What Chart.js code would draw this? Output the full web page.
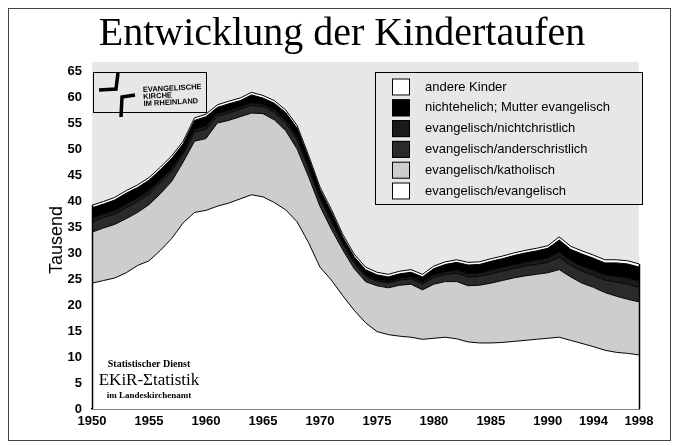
<!DOCTYPE html>
<html>
<head>
<meta charset="utf-8">
<script src="https://cdn.jsdelivr.net/npm/chart.js@4/dist/chart.umd.min.js"></script>
<style>
    html, body { margin: 0; padding: 0; background: #fff; }
</style>
</head>
<body>
<canvas id="taufenChart" width="679" height="446"></canvas>
<script>
// Jahre und Achsenbeschriftung
const years = [
    1950, 1951, 1952, 1953, 1954, 1955, 1956, 1957, 1958, 1959,
    1960, 1961, 1962, 1963, 1964, 1965, 1966, 1967, 1968, 1969,
    1970, 1971, 1972, 1973, 1974, 1975, 1976, 1977, 1978, 1979,
    1980, 1981, 1982, 1983, 1984, 1985, 1986, 1987, 1988, 1989,
    1990, 1991, 1992, 1993, 1994, 1995, 1996, 1997, 1998,
];
const tickYears = [1950, 1955, 1960, 1965, 1970, 1975, 1980, 1985, 1990, 1994, 1998];

// Taufen in Tausend (gestapelt, von unten nach oben)
const evEv = [
    24.2, 24.7, 25.2, 26.2, 27.6, 28.5, 30.5, 32.8, 35.8, 37.8,
    38.2, 39.0, 39.6, 40.4, 41.2, 40.8, 39.7, 38.3, 36.0, 32.0,
    27.3, 24.8, 21.8, 19.0, 16.6, 14.9, 14.3, 14.0, 13.8, 13.4,
    13.6, 13.8, 13.5, 12.9, 12.7, 12.7, 12.8, 13.0, 13.2, 13.4,
    13.6, 13.8, 13.2, 12.6, 12.0, 11.3, 10.9, 10.7, 10.4,
];
const evKath = [
    9.8, 10.1, 10.3, 10.4, 10.2, 10.8, 10.9, 11.0, 11.7, 13.7,
    13.8, 16.0, 15.9, 15.8, 15.7, 16.0, 15.9, 15.2, 14.0, 12.7,
    11.7, 9.8, 8.8, 8.0, 7.9, 8.8, 9.0, 9.8, 10.2, 9.5,
    10.4, 10.7, 11.0, 10.8, 11.1, 11.5, 11.9, 12.2, 12.4, 12.5,
    12.6, 13.0, 12.2, 11.6, 11.4, 11.1, 10.8, 10.4, 10.2,
];
const evAnders = [
    2.0, 2.0, 2.0, 2.1, 2.1, 2.0, 2.0, 1.9, 1.5, 1.7,
    1.8, 1.3, 1.4, 1.4, 1.5, 1.3, 1.4, 1.5, 1.7, 1.6,
    1.4, 1.4, 1.1, 1.0, 1.0, 0.9, 0.9, 1.0, 1.0, 1.1,
    1.3, 1.4, 1.6, 1.7, 1.7, 1.8, 1.8, 1.8, 1.9, 1.9,
    2.0, 2.4, 2.2, 2.3, 2.3, 2.4, 2.7, 2.9, 2.8,
];
const evNicht = [
    0.7, 0.7, 0.7, 0.7, 0.7, 0.7, 0.7, 0.6, 0.5, 0.6,
    0.6, 0.5, 0.5, 0.5, 0.5, 0.5, 0.5, 0.5, 0.6, 0.5,
    0.5, 0.5, 0.4, 0.3, 0.3, 0.3, 0.3, 0.3, 0.4, 0.4,
    0.5, 0.5, 0.6, 0.6, 0.6, 0.7, 0.7, 0.7, 0.7, 0.8,
    0.8, 1.0, 0.9, 1.0, 1.0, 1.0, 1.1, 1.2, 1.2,
];
const nichtehelich = [
    2.0, 1.9, 2.0, 2.1, 2.0, 2.0, 1.9, 1.9, 1.5, 1.7,
    1.8, 1.2, 1.3, 1.2, 1.5, 1.2, 1.3, 1.5, 1.7, 1.5,
    1.3, 1.4, 1.0, 1.0, 1.0, 0.9, 0.9, 0.9, 0.9, 1.0,
    1.2, 1.4, 1.5, 1.7, 1.7, 1.7, 1.7, 1.8, 1.8, 1.8,
    1.9, 2.3, 2.2, 2.3, 2.3, 2.3, 2.6, 2.7, 2.7,
];
const andere = [
    0.5, 0.5, 0.5, 0.5, 0.5, 0.5, 0.5, 0.5, 0.5, 0.5,
    0.5, 0.5, 0.5, 0.5, 0.5, 0.5, 0.5, 0.5, 0.5, 0.5,
    0.5, 0.5, 0.5, 0.5, 0.5, 0.5, 0.5, 0.5, 0.5, 0.5,
    0.5, 0.5, 0.5, 0.5, 0.5, 0.5, 0.5, 0.5, 0.5, 0.5,
    0.5, 0.6, 0.6, 0.6, 0.6, 0.6, 0.6, 0.6, 0.6,
];

const seriesLabels = [
    "evangelisch/evangelisch",
    "evangelisch/katholisch",
    "evangelisch/anderschristlich",
    "evangelisch/nichtchristlich",
    "nichtehelich; Mutter evangelisch",
    "andere Kinder",
];
const seriesData = [evEv, evKath, evAnders, evNicht, nichtehelich, andere];
const seriesColors = ["#ffffff", "#cdcdcd", "#2a2a2a", "#1a1a1a", "#000000", "#ffffff"];

const titleText = "Entwicklung der Kindertaufen";
const stipple = "#e7e7e7";
const sans = "'Liberation Sans', Arial, sans-serif";
const serif = "'Liberation Serif', 'Times New Roman', serif";

const datasets = seriesData.map((values, i) => ({
    label: seriesLabels[i],
    data: values,
    backgroundColor: seriesColors[i],
    borderColor: "#000",
    borderWidth: 1,
    pointRadius: 0,
    tension: 0,
    fill: i === 0 ? "origin" : "-1",
}));

// Hintergrund, Rahmen und Ueberschrift
const backdrop = {
    id: "backdrop",
    beforeDraw(chart) {
        const { ctx, chartArea: a } = chart;
        ctx.save();
        ctx.fillStyle = "#fff";
        ctx.fillRect(0, 0, chart.width, chart.height);
        ctx.fillStyle = stipple;
        ctx.fillRect(a.left, a.top - 9, a.right - a.left, a.bottom - a.top + 9);
        ctx.strokeStyle = "#444";
        ctx.lineWidth = 1;
        ctx.strokeRect(8.5, 8.5, 662, 432);
        ctx.fillStyle = "#000";
        ctx.font = "40px " + serif;
        ctx.textAlign = "center";
        ctx.textBaseline = "alphabetic";
        ctx.fillText(titleText, 342, 45);
        ctx.restore();
    },
};

// senkrechte Kanten der Flaeche bei 1950 und 1998
const edges = {
    id: "edges",
    afterDatasetsDraw(chart) {
        const { ctx, scales } = chart;
        const x = scales.x, y = scales.y;
        ctx.save();
        ctx.strokeStyle = "#000";
        ctx.lineWidth = 1.5;
        [0, years.length - 1].forEach((i) => {
            const top = seriesData.reduce((s, arr) => s + arr[i], 0);
            const px = Math.round(x.getPixelForValue(i)) + 0.5;
            ctx.beginPath();
            ctx.moveTo(px, y.getPixelForValue(0));
            ctx.lineTo(px, y.getPixelForValue(top));
            ctx.stroke();
        });
        ctx.restore();
    },
};

// Legende, Logo und Vermerk
const extras = {
    id: "extras",
    afterDraw(chart) {
        const ctx = chart.ctx;
        ctx.save();

        // Legende
        ctx.fillStyle = stipple;
        ctx.fillRect(375, 72, 267, 132);
        ctx.strokeStyle = "#000";
        ctx.lineWidth = 1;
        ctx.strokeRect(375.5, 72.5, 267, 132);
        ctx.font = "13px " + sans;
        ctx.textBaseline = "middle";
        ctx.textAlign = "left";
        for (let k = 0; k < seriesLabels.length; k++) {
            const i = seriesLabels.length - 1 - k;
            const cy = 87 + k * 20.8;
            ctx.fillStyle = seriesColors[i];
            ctx.fillRect(392, cy - 8.5, 18, 17);
            ctx.strokeStyle = "#000";
            ctx.strokeRect(392.5, cy - 8, 17, 16);
            ctx.fillStyle = "#000";
            ctx.fillText(seriesLabels[i], 425, cy);
        }

        // Logo
        ctx.fillStyle = stipple;
        ctx.fillRect(93, 72, 113, 40);
        ctx.strokeStyle = "#000";
        ctx.lineWidth = 1;
        ctx.strokeRect(93.5, 72.5, 113, 40);
        ctx.lineWidth = 3.5;
        ctx.beginPath();
        ctx.moveTo(99, 90);
        ctx.lineTo(116, 89);
        ctx.lineTo(118, 73);
        ctx.stroke();
        ctx.beginPath();
        ctx.moveTo(121, 117);
        ctx.lineTo(122, 97);
        ctx.lineTo(135, 95);
        ctx.stroke();
        ctx.save();
        ctx.translate(143, 92);
        ctx.rotate(-0.05);
        ctx.fillStyle = "#000";
        ctx.font = "bold 7.5px " + sans;
        ctx.textBaseline = "alphabetic";
        ctx.fillText("EVANGELISCHE", 0, 0);
        ctx.fillText("KIRCHE", 0, 7);
        ctx.fillText("IM RHEINLAND", 0, 14);
        ctx.restore();

        // Statistischer Dienst
        ctx.fillStyle = "#000";
        ctx.textAlign = "center";
        ctx.textBaseline = "alphabetic";
        ctx.font = "bold 10px " + serif;
        ctx.fillText("Statistischer Dienst", 149, 367);
        ctx.font = "17px " + serif;
        ctx.fillText("EKiR-\u03A3tatistik", 149, 385);
        ctx.font = "bold 9px " + serif;
        ctx.fillText("im Landeskirchenamt", 149, 398);

        ctx.restore();
    },
};

const tickFont = { family: sans, size: 13, weight: "bold" };

new Chart(document.getElementById("taufenChart"), {
    type: "line",
    data: { labels: years, datasets: datasets },
    plugins: [backdrop, edges, extras],
    options: {
        responsive: false,
        animation: false,
        layout: { padding: { top: 71, left: 10, right: 40, bottom: 10 } },
        scales: {
            x: {
                type: "category",
                grid: { display: false, drawTicks: false },
                border: { display: true, color: "#000", width: 1.5 },
                ticks: {
                    autoSkip: false,
                    maxRotation: 0,
                    padding: 5,
                    color: "#000",
                    font: tickFont,
                    callback: function (val, i) {
                        return tickYears.includes(years[i]) ? String(years[i]) : "";
                    },
                },
                afterFit: function (scale) { scale.height = 27; },
            },
            y: {
                stacked: true,
                min: 0,
                max: 65,
                grid: { display: false, drawTicks: false },
                border: { display: false },
                ticks: { stepSize: 5, padding: 10, color: "#000", font: tickFont },
                title: {
                    display: true,
                    text: "Tausend",
                    color: "#000",
                    font: { family: sans, size: 18 },
                    padding: { top: 36, bottom: 0 },
                },
                afterFit: function (scale) { scale.width = 82; },
            },
        },
        plugins: {
            legend: { display: false },
            tooltip: { enabled: false },
            title: { display: false },
        },
    },
});
</script>
</body>
</html>
